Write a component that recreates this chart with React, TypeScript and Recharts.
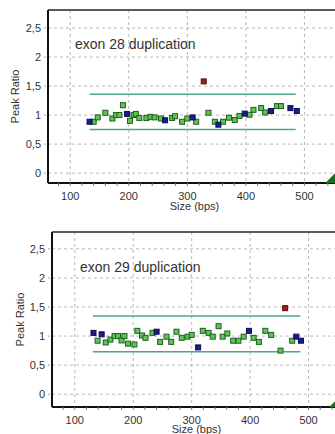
import React from "react";
import {
  ScatterChart,
  Scatter,
  XAxis,
  YAxis,
  CartesianGrid,
  ReferenceLine,
  Label,
} from "recharts";

// exon 28 plot
const ex28GreenSize = [140, 147, 160, 172, 178, 184, 190, 202, 208, 212, 218, 230, 237, 244, 255, 274, 279, 291, 300, 315, 336, 347, 361, 371, 381, 389, 406, 413, 426, 433, 453, 460];
const ex28GreenRatio = [0.885, 0.96, 1.04, 0.94, 1.0, 1.0, 1.17, 0.9, 1.0, 1.02, 0.95, 0.95, 0.97, 0.96, 0.94, 0.95, 0.98, 0.885, 0.94, 0.885, 1.04, 0.885, 0.885, 0.955, 0.915, 0.985, 1.005, 1.09, 1.12, 1.045, 1.155, 1.155];
const ex28BlueSize = [133, 197, 262, 309, 353, 398, 443, 476, 487];
const ex28BlueRatio = [0.885, 1.02, 0.91, 0.96, 0.835, 1.025, 1.07, 1.12, 1.07];
const ex28RedSize = [328];
const ex28RedRatio = [1.58];

// exon 29 plot
const ex29GreenSize = [139, 153, 161, 168, 174, 180, 185, 191, 202, 207, 215, 221, 233, 246, 257, 265, 274, 283, 293, 300, 319, 329, 336, 346, 353, 361, 371, 380, 389, 406, 415, 426, 436, 452, 472];
const ex29GreenRatio = [0.92, 0.89, 0.94, 1.0, 1.0, 0.925, 1.0, 0.87, 0.855, 1.09, 1.01, 0.97, 1.055, 0.9, 0.99, 0.9, 1.075, 0.97, 0.99, 1.02, 1.09, 1.055, 0.99, 1.17, 0.99, 1.045, 0.92, 0.92, 0.99, 0.97, 0.9, 1.09, 1.02, 0.75, 0.92];
const ex29BlueSize = [132, 146, 240, 311, 398, 479, 487];
const ex29BlueRatio = [1.055, 1.03, 1.075, 0.805, 1.09, 0.99, 0.92];
const ex29RedSize = [460];
const ex29RedRatio = [1.48];

// limit lines [start, end] and [lower, upper]
const ex28LimitRange = [133, 485];
const ex28Limits = [0.753, 1.357];
const ex29LimitRange = [131, 486];
const ex29Limits = [0.73, 1.345];

// cut-off marker on the right edge
const markerSize = [556];

const yTicks = [0, 0.5, 1, 1.5, 2, 2.5];
const xLabelTicks = [100, 200, 300, 400, 500];
const xMinorTicks = [80, 100, 120, 140, 160, 180, 200, 220, 240, 260, 280, 300, 320, 340, 360, 380, 400, 420, 440, 460, 480, 500, 520, 540, 560, 580];

const FONT = '"Liberation Sans", Arial, sans-serif';

const zip = (xs: number[], ys: number[]) => xs.map((x, i) => ({ x, y: ys[i] }));

const square = (fill: string, stroke: string) => (p: any) => (
  <rect x={p.cx - 2.5} y={p.cy - 2.5} width={5} height={5} fill={fill} stroke={stroke} strokeWidth={1} />
);

const triangle = (p: any) => (
  <polygon points={`${p.cx - 12},${p.cy} ${p.cx},${p.cy - 12} ${p.cx + 12},${p.cy}`} fill="#1d6b1d" />
);

const XTick = (p: any) => {
  const v = p.payload.value;
  if (!xLabelTicks.includes(v)) return <g />;
  return (
    <text x={p.x} y={p.y} dy={12} textAnchor="middle" fontSize={11} fill="#333" fontFamily={FONT}>
      {v}
    </text>
  );
};

type PlotProps = {
  title: string;
  top: number;
  width: number;
  height: number;
  yAxisWidth: number;
  xAxisHeight: number;
  xDomain: [number, number];
  yDomain: [number, number];
  green: { x: number; y: number }[];
  blue: { x: number; y: number }[];
  red: { x: number; y: number }[];
  limitRange: number[];
  limits: number[];
  titlePos: [number, number];
  yLabelDx: number;
  xLabelDx: number;
  xLabelDy: number;
};

const PeakPlot: React.FC<PlotProps> = (props) => {
  const marker = zip(markerSize, [props.yDomain[0]]);
  return (
    <div style={{ position: "absolute", left: 0, top: props.top }}>
      <ScatterChart
        width={props.width}
        height={props.height}
        margin={{ top: 10, right: 18, bottom: 0, left: 0 }}
      >
        <CartesianGrid
          stroke="#b8b8b8"
          strokeDasharray="3 3"
          verticalValues={xLabelTicks}
          horizontalValues={yTicks}
        />
        <XAxis
          type="number"
          dataKey="x"
          domain={props.xDomain}
          ticks={xMinorTicks}
          interval={0}
          allowDataOverflow
          height={props.xAxisHeight}
          axisLine={{ stroke: "#111", strokeWidth: 2 }}
          tickLine={{ stroke: "#777" }}
          tickSize={3}
          tickMargin={2}
          tick={<XTick />}
        >
          <Label
            value="Size (bps)"
            position="center"
            dx={props.xLabelDx}
            dy={props.xLabelDy}
            style={{ fontSize: 11, fill: "#333", fontFamily: FONT }}
          />
        </XAxis>
        <YAxis
          type="number"
          dataKey="y"
          domain={props.yDomain}
          ticks={yTicks}
          interval={0}
          allowDataOverflow
          width={props.yAxisWidth}
          axisLine={{ stroke: "#111", strokeWidth: 2 }}
          tickLine={{ stroke: "#aaa", strokeDasharray: "2 2" }}
          tickSize={4}
          tickMargin={3}
          tickFormatter={(v: number) => String(v).replace(".", ",")}
          tick={{ fontSize: 11, fill: "#333", fontFamily: FONT }}
        >
          <Label
            value="Peak Ratio"
            position="center"
            angle={-90}
            dx={props.yLabelDx}
            style={{ fontSize: 11, fill: "#333", fontFamily: FONT, textAnchor: "middle" }}
          />
        </YAxis>
        <ReferenceLine y={props.yDomain[1]} stroke="#222" strokeWidth={1.5} />
        {props.limits.map((l, i) => (
          <ReferenceLine
            key={i}
            segment={[
              { x: props.limitRange[0], y: l },
              { x: props.limitRange[1], y: l },
            ]}
            stroke="#4aa88c"
            strokeWidth={1.5}
          />
        ))}
        <Scatter data={props.green} shape={square("#5fc454", "#1f5f1f")} isAnimationActive={false} />
        <Scatter data={props.blue} shape={square("#1c1c8c", "#0c0c55")} isAnimationActive={false} />
        <Scatter data={props.red} shape={square("#8e2424", "#5a1010")} isAnimationActive={false} />
        <Scatter data={marker} shape={triangle} isAnimationActive={false} />
      </ScatterChart>
      <div
        style={{
          position: "absolute",
          left: props.titlePos[0],
          top: props.titlePos[1],
          fontFamily: FONT,
          fontSize: 14,
          lineHeight: "16px",
          color: "#333",
          whiteSpace: "nowrap",
        }}
      >
        {props.title}
      </div>
    </div>
  );
};

export default function App() {
  return (
    <div
      style={{
        position: "fixed",
        left: 0,
        top: 0,
        width: 335,
        height: 434,
        overflow: "hidden",
        background: "#fff",
      }}
    >
      <PeakPlot
        title="exon 28 duplication"
        top={0}
        width={381}
        height={215}
        yAxisWidth={48}
        xAxisHeight={32}
        xDomain={[62, 600]}
        yDomain={[-0.17, 2.81]}
        green={zip(ex28GreenSize, ex28GreenRatio)}
        blue={zip(ex28BlueSize, ex28BlueRatio)}
        red={zip(ex28RedSize, ex28RedRatio)}
        limitRange={ex28LimitRange}
        limits={ex28Limits}
        titlePos={[75, 36]}
        yLabelDx={-9}
        xLabelDx={-11}
        xLabelDy={7}
      />
      <PeakPlot
        title="exon 29 duplication"
        top={222}
        width={385}
        height={212}
        yAxisWidth={52}
        xAxisHeight={27}
        xDomain={[61, 600]}
        yDomain={[-0.22, 2.79]}
        green={zip(ex29GreenSize, ex29GreenRatio)}
        blue={zip(ex29BlueSize, ex29BlueRatio)}
        red={zip(ex29RedSize, ex29RedRatio)}
        limitRange={ex29LimitRange}
        limits={ex29Limits}
        titlePos={[80, 37]}
        yLabelDx={-6}
        xLabelDx={-13}
        xLabelDy={9}
      />
    </div>
  );
}
